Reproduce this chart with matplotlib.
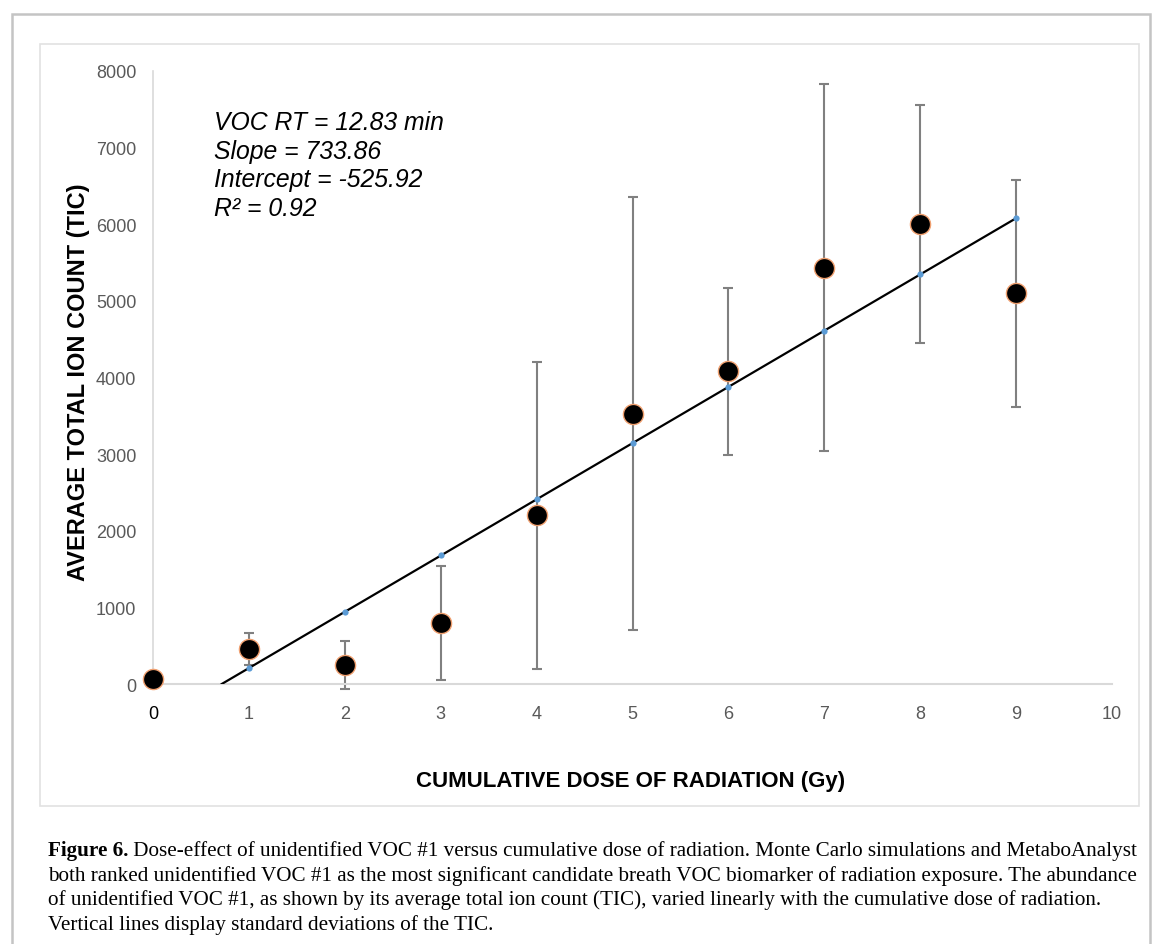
# dose_effect_voc1.py
# Dose-effect of unidentified VOC #1 vs cumulative dose

import numpy as np
import matplotlib.pyplot as plt
from matplotlib.patches import Rectangle

# ── data ──────────────────────────────────────────────────────────────────────
dose = [0, 1, 2, 3, 4, 5, 6, 7, 8, 9]
tic_mean = [70, 460, 250, 800, 2200, 3530, 4080, 5430, 6000, 5100]
tic_sd = [0, 210, 310, 745, 2000, 2830, 1085, 2395, 1550, 1480]

fit_dose = [1, 2, 3, 4, 5, 6, 7, 8, 9]
fit_tic = [210, 940, 1680, 2410, 3140, 3880, 4610, 5345, 6080]

slope = 733.86
intercept = -525.92

x_ticks = list(range(0, 11))
y_ticks = list(range(0, 8001, 1000))

annot = "VOC RT = 12.83 min\nSlope = 733.86\nIntercept = -525.92\nR\u00b2 = 0.92"

caption_bold = "Figure 6."
caption_lines = [
    " Dose-effect of unidentified VOC #1 versus cumulative dose of radiation. Monte Carlo simulations and MetaboAnalyst",
    "both ranked unidentified VOC #1 as the most significant candidate breath VOC biomarker of radiation exposure. The abundance",
    "of unidentified VOC #1, as shown by its average total ion count (TIC), varied linearly with the cumulative dose of radiation.",
    "Vertical lines display standard deviations of the TIC.",
]

# ── figure ────────────────────────────────────────────────────────────────────
W, H = 1156, 945
fig = plt.figure(figsize=(W / 100, H / 100), dpi=100)

def fx(px):
    return px / W

def fy(py):
    return 1 - py / H

# outer frame + inner chart box
fig.patches.append(Rectangle((fx(12), fy(960)), fx(1150) - fx(12), fy(15) - fy(960),
                             transform=fig.transFigure, fill=False,
                             edgecolor="#c4c4c4", linewidth=1.8))
fig.patches.append(Rectangle((fx(40), fy(807)), fx(1139) - fx(40), fy(45) - fy(807),
                             transform=fig.transFigure, fill=False,
                             edgecolor="#e2e2e2", linewidth=1.2))

ax = fig.add_axes([fx(153), fy(685), fx(1112) - fx(153), fy(72) - fy(685)])
ax.set_xlim(0, 10)
ax.set_ylim(0, 8000)

for s in ["top", "right"]:
    ax.spines[s].set_visible(False)
ax.spines["left"].set_color("#d9d9d9")
ax.spines["bottom"].set_color("#d9d9d9")
ax.spines["left"].set_linewidth(1.2)
ax.spines["bottom"].set_linewidth(1.5)

ax.set_xticks(x_ticks)
ax.set_yticks(y_ticks)
ax.tick_params(axis="both", length=0, labelcolor="#595959", labelsize=13)
ax.tick_params(axis="x", pad=15)
ax.tick_params(axis="y", pad=12)
for lab in ax.get_xticklabels() + ax.get_yticklabels():
    lab.set_fontfamily("Liberation Sans")
ax.get_xticklabels()[0].set_color("black")

# trend line from the stated fit, starting where it crosses zero
x0 = -intercept / slope
x_line = np.array([x0, fit_dose[-1]])
ax.plot(x_line, intercept + slope * x_line, color="black", linewidth=1.6, zorder=3)
ax.plot(fit_dose, fit_tic, "o", color="#5b9bd5", markersize=4.5,
        markeredgewidth=0, zorder=4, clip_on=False)

# means with SD bars
ax.errorbar(dose, tic_mean, yerr=tic_sd, fmt="none", ecolor="#808080",
            elinewidth=1.5, capsize=3.5, capthick=1.5, zorder=2, clip_on=False)
ax.plot(dose, tic_mean, "o", color="black", markersize=14.5,
        markeredgecolor="#f0a070", markeredgewidth=1.0, zorder=5, clip_on=False)

# axis titles
fig.text(fx(631), fy(782), "CUMULATIVE DOSE OF RADIATION (Gy)", ha="center", va="center",
         fontsize=16, fontweight="bold", family="Liberation Sans")
fig.text(fx(79), fy(382), "AVERAGE TOTAL ION COUNT (TIC)", ha="center", va="center",
         rotation=90, fontsize=17, fontweight="bold", family="Liberation Sans")

# fit annotation
fig.text(fx(214), fy(111), annot, ha="left", va="top", fontsize=17.8,
         style="italic", family="Liberation Sans", linespacing=1.24)

# caption
cap_size = 15.2
rend = fig.canvas.get_renderer()
t0 = fig.text(fx(48), fy(851), caption_bold, ha="left", va="center",
              fontsize=cap_size, fontweight="bold", family="Liberation Serif")
bb = t0.get_window_extent(renderer=rend)
fig.text(bb.x1 / W, fy(851), caption_lines[0], ha="left", va="center",
         fontsize=cap_size, family="Liberation Serif")
for i, line in enumerate(caption_lines[1:], start=1):
    fig.text(fx(48), fy(851 + 24.7 * i), line, ha="left", va="center",
             fontsize=cap_size, family="Liberation Serif")

fig.savefig("out.png", dpi=100)
